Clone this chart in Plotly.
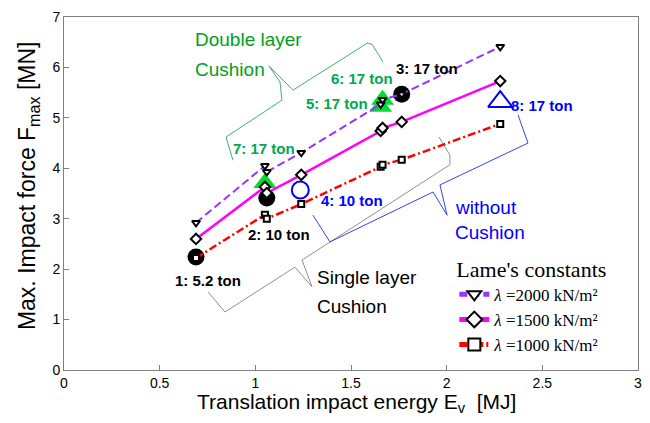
import plotly.graph_objects as go

# ---- data ----
x_series = [0.69, 1.05, 1.06, 1.24, 1.655, 1.665, 1.765, 2.28]
y_2000 = [2.92, 4.05, 3.93, 4.31, 5.27, 5.36, 5.47, 6.41]
y_1500 = [2.60, 3.63, 3.51, 3.87, 4.74, 4.80, 4.92, 5.73]
y_1000 = [2.22, 3.08, 3.00, 3.29, 4.03, 4.07, 4.17, 4.88]
series_names = ["<i>λ</i> =2000 kN/m²", "<i>λ</i> =1500 kN/m²", "<i>λ</i> =1000 kN/m²"]

single_x = [0.69, 1.06, 1.765]
single_y = [2.24, 3.41, 5.47]
double_x = [1.05, 1.655, 1.665]
double_y = [3.71, 5.22, 5.36]
none_circle_x = [1.235]
none_circle_y = [3.57]
none_tri_x = [2.28]
none_tri_y = [5.32]

labels = ["1: 5.2 ton", "2: 10 ton", "3: 17 ton", "4: 10 ton", "5: 17 ton", "6: 17 ton", "7: 17 ton", "8: 17 ton"]
label_x = [0.753, 1.124, 1.897, 1.505, 1.427, 1.558, 1.045, 2.50]
label_y = [1.78, 2.68, 5.97, 3.37, 5.29, 5.79, 4.40, 5.24]
label_col = ["black", "black", "black", "blue", "#00A84F", "#00A84F", "#00A84F", "blue"]

cat_lines = ["Double layer", "Cushion", "without", "Cushion", "Single layer", "Cushion"]
cat_x = [0.674, 0.674, 2.033, 2.033, 1.312, 1.312]
cat_y = [6.55, 5.96, 3.23, 2.73, 1.84, 1.25]
cat_col = ["#00A020", "#00A020", "blue", "blue", "black", "black"]

x_title = "Translation impact energy E<sub>v</sub>  [MJ]"
y_title = "Max. Impact force F<sub>max</sub> [MN]"

brace_double_x = [0.883, 0.847, 1.139, 1.129, 1.071, 1.197, 1.584, 1.610, 1.667]
brace_double_y = [4.16, 4.62, 5.35, 5.71, 6.03, 5.55, 6.48, 6.46, 6.11]
brace_single_x = [0.753, 0.841, 1.207, 1.296, 1.244, 2.017, 2.017, 1.960]
brace_single_y = [1.55, 1.15, 2.04, 1.65, 2.18, 4.07, 4.26, 4.62]
brace_none_x = [1.301, 1.390, 1.929, 2.002, 1.965, 2.425, 2.373]
brace_none_y = [3.07, 2.54, 3.53, 3.07, 3.67, 4.50, 5.06]

fig = go.Figure()

# braces
for bx, by, c in [(brace_double_x, brace_double_y, "#3CB371"),
                  (brace_single_x, brace_single_y, "#909090"),
                  (brace_none_x, brace_none_y, "#3344EE")]:
    fig.add_trace(go.Scatter(x=bx, y=by, mode="lines", line=dict(color=c, width=1),
                             showlegend=False, hoverinfo="skip"))

# special markers
fig.add_trace(go.Scatter(x=single_x, y=single_y, mode="markers", showlegend=False,
                         marker=dict(symbol="circle", size=17, color="black")))
fig.add_trace(go.Scatter(x=double_x, y=double_y, mode="markers", showlegend=False,
                         marker=dict(symbol="triangle-up", size=20, color="#00DD33")))
fig.add_trace(go.Scatter(x=none_circle_x, y=none_circle_y, mode="markers", showlegend=False,
                         marker=dict(symbol="circle-open", size=17, color="blue", line=dict(width=2))))
fig.add_trace(go.Scatter(x=none_tri_x, y=none_tri_y, mode="markers", showlegend=False,
                         marker=dict(symbol="triangle-up-open", size=21, color="blue", line=dict(width=2))))

# series
fig.add_trace(go.Scatter(x=x_series, y=y_2000, mode="lines+markers", name=series_names[0],
                         line=dict(color="#9933FF", width=2, dash="8px,4px"),
                         marker=dict(symbol="triangle-down", size=7, color="white",
                                     line=dict(color="black", width=2))))
fig.add_trace(go.Scatter(x=x_series, y=y_1500, mode="lines+markers", name=series_names[1],
                         line=dict(color="#FF00FF", width=2.5),
                         marker=dict(symbol="diamond", size=8, color="white",
                                     line=dict(color="black", width=2))))
fig.add_trace(go.Scatter(x=x_series, y=y_1000, mode="lines+markers", name=series_names[2],
                         line=dict(color="#FF0000", width=2.5, dash="8px,3px,2px,3px"),
                         marker=dict(symbol="square", size=6, color="white",
                                     line=dict(color="black", width=2))))

# labels
for t, lx, ly, c in zip(labels, label_x, label_y, label_col):
    fig.add_annotation(x=lx, y=ly, text="<b>" + t + "</b>", showarrow=False,
                       font=dict(family="Arial", size=15, color=c))

for t, lx, ly, c in zip(cat_lines, cat_x, cat_y, cat_col):
    fig.add_annotation(x=lx, y=ly, text=t, showarrow=False, xanchor="left",
                       font=dict(family="Arial", size=19, color=c))

# axis titles as annotations
fig.add_annotation(x=0.51, y=-0.0935, xref="paper", yref="paper", text=x_title, showarrow=False,
                   xanchor="center", yanchor="middle",
                   font=dict(family="Arial", size=21, color="black"))
fig.add_annotation(x=-0.0627, y=0.521, xref="paper", yref="paper", text=y_title, showarrow=False,
                   xanchor="center", yanchor="middle",
                   textangle=-90, font=dict(family="Arial", size=23, color="black"))

axis_common = dict(showline=True, mirror=True, linecolor="#808080", linewidth=1,
                   ticks="inside", ticklen=5, tickcolor="#808080", showgrid=False, zeroline=False,
                   automargin=False, ticklabeloverflow="allow",
                   tickfont=dict(family="Arial", size=14, color="black"))

fig.update_layout(
    width=634, height=407,
    margin=dict(l=56, r=4, t=9, b=45),
    plot_bgcolor="white", paper_bgcolor="white",
    xaxis=dict(range=[0, 3], dtick=0.5, **axis_common),
    yaxis=dict(range=[0, 7], dtick=1, **axis_common),
    legend=dict(x=0.68, y=0.345, xanchor="left", yanchor="top", bgcolor="rgba(255,255,255,0)",
                title=dict(text="Lame's constants", font=dict(family="Times New Roman, Liberation Serif", size=22)),
                font=dict(family="Times New Roman, Liberation Serif", size=17, color="black"),
                tracegroupgap=0, itemsizing="constant"),
)

fig.write_html("out.html")
